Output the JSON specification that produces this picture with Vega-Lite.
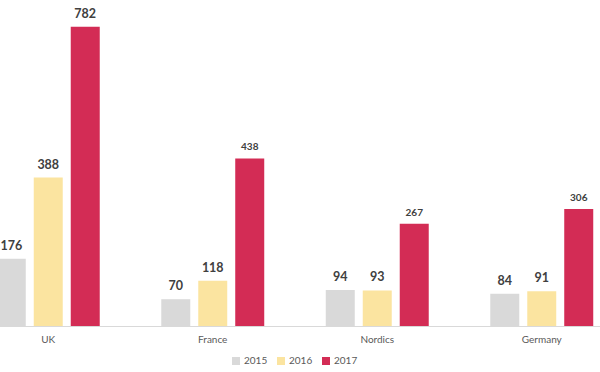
{
  "$schema": "https://vega.github.io/schema/vega-lite/v6.json",
  "width": 600,
  "height": 326,
  "autosize": {"type": "none"},
  "padding": {"left": 0, "top": 0, "right": 0, "bottom": 46},
  "background": "white",
  "config": {"view": {"stroke": null}, "font": "Lato"},
  "data": {
    "values": [
      {"country": "UK", "year": "2015", "value": 176},
      {"country": "UK", "year": "2016", "value": 388},
      {"country": "UK", "year": "2017", "value": 782},
      {"country": "France", "year": "2015", "value": 70},
      {"country": "France", "year": "2016", "value": 118},
      {"country": "France", "year": "2017", "value": 438},
      {"country": "Nordics", "year": "2015", "value": 94},
      {"country": "Nordics", "year": "2016", "value": 93},
      {"country": "Nordics", "year": "2017", "value": 267},
      {"country": "Germany", "year": "2015", "value": 84},
      {"country": "Germany", "year": "2016", "value": 91},
      {"country": "Germany", "year": "2017", "value": 306}
    ]
  },
  "encoding": {
    "x": {
      "field": "country", "type": "nominal", "sort": null,
      "scale": {"range": [-34, 624], "paddingInner": 0.374, "paddingOuter": 0.187},
      "axis": {"title": null, "labelAngle": 0, "ticks": false, "domainColor": "#d9d9d9", "domainWidth": 1, "labelColor": "#595959", "labelFontSize": 10, "labelPadding": 8, "labelFont": "Lato"}
    },
    "xOffset": {"field": "year", "type": "nominal", "scale": {"paddingInner": 0.216, "paddingOuter": 0}},
    "y": {"field": "value", "type": "quantitative", "scale": {"domain": [0, 852]}, "axis": null}
  },
  "layer": [
    {
      "mark": {"type": "bar"},
      "encoding": {
        "color": {
          "field": "year", "type": "nominal",
          "scale": {"domain": ["2015", "2016", "2017"], "range": ["#d9d9d9", "#fbe4a0", "#d32c55"]},
          "legend": {"title": null, "orient": "none", "legendX": 231, "legendY": 356, "direction": "horizontal", "symbolType": "square", "symbolSize": 64, "symbolStrokeWidth": 0, "labelFontSize": 10, "labelColor": "#595959", "columnPadding": 8, "labelOffset": 3}
        }
      }
    },
    {
      "mark": {"type": "text", "baseline": "bottom", "dy": -6, "fontWeight": "bold", "color": "#404040"},
      "encoding": {
        "text": {"field": "value", "type": "quantitative"},
        "size": {"condition": {"test": "datum.year == '2017' && datum.country != 'UK'", "value": 10}, "value": 12.5}
      }
    }
  ]
}
